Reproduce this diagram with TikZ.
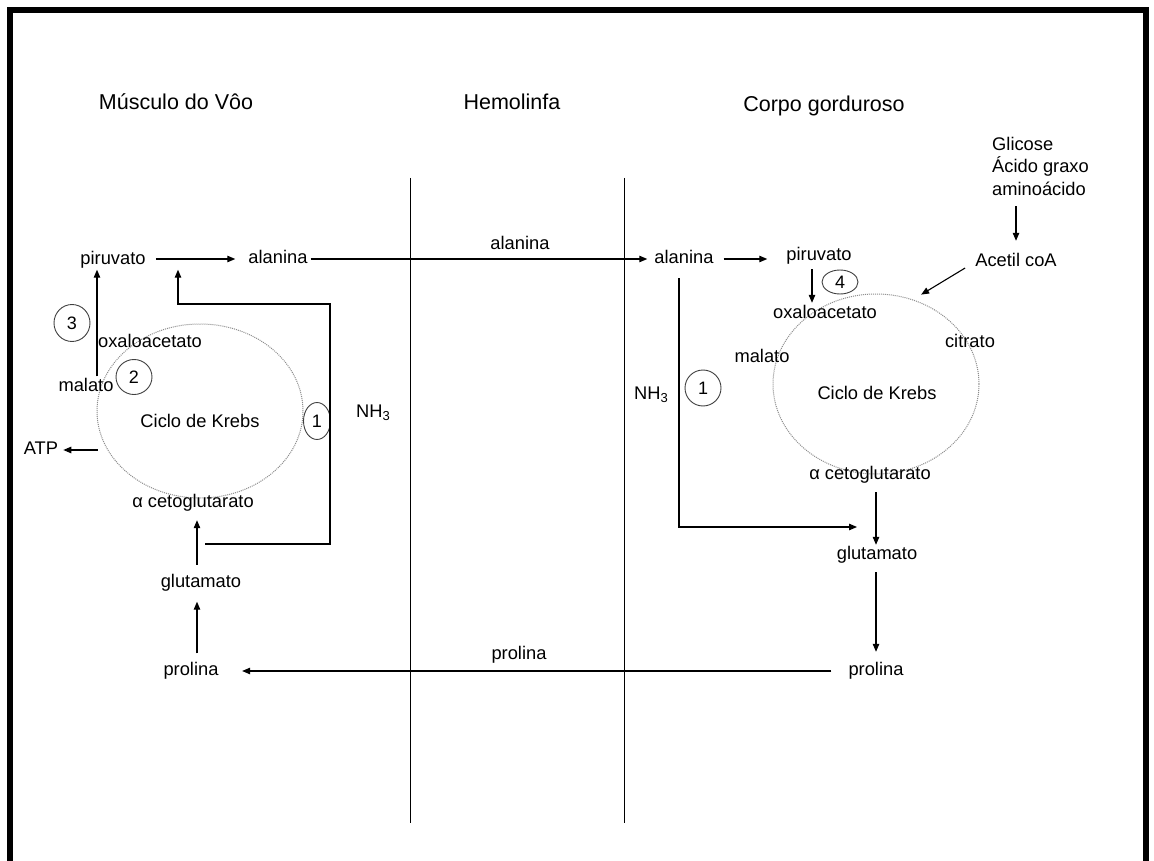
\documentclass[tikz,border=0pt]{standalone}
\usepackage{fontspec}
\setmainfont{Liberation Sans}
\usetikzlibrary{arrows.meta,shapes.geometric}
\newcommand{\subthree}{\raisebox{-0.35ex}{\fontsize{13}{14}\selectfont 3}}
\begin{document}
\begin{tikzpicture}[x=1pt,y=-1pt,
 txt/.style={inner sep=0pt, font=\fontsize{18.3}{22}\selectfont, text height=13pt, text depth=4pt},
 ttl/.style={inner sep=0pt, font=\fontsize{21.5}{26}\selectfont},
 num/.style={draw=black!75, ellipse, inner sep=0pt, line width=0.9pt, font=\fontsize{18}{22}\selectfont},
 krebs/.style={draw=black!45, densely dotted, line width=1pt, ellipse, inner sep=0pt},
 arr/.style={-{Triangle[length=8pt,width=6.5pt]}, line width=1.1pt},
 ln/.style={line width=1pt},
]
\useasboundingbox (0,0) rectangle (1154,861);
\fill[white] (0,0) rectangle (1154,861);
\draw[line width=6.5pt] (10,870) -- (10,10) -- (1146,10) -- (1146,870);

% titles
\node[ttl] (tM) at (176,102) {Músculo do Vôo};
\node[ttl] (tH) at (512,102) {Hemolinfa};
\node[ttl] (tC) at (824,106) {Corpo gorduroso};

% dividers
\coordinate (d1t) at (410,178); \coordinate (d1b) at (410,823);
\coordinate (d2t) at (624,178); \coordinate (d2b) at (624,823);
\draw[ln] (d1t) -- (d1b);
\draw[ln] (d2t) -- (d2b);

% Krebs cycles
\node[krebs, minimum width=206pt, minimum height=174pt] (krL) at (200,411) {};
\node[txt] (ckL) at (200,423) {Ciclo de Krebs};
\node[krebs, minimum width=206pt, minimum height=180pt] (krR) at (876,384) {};
\node[txt] (ckR) at (877,395) {Ciclo de Krebs};

% left texts
\node[txt] (pirL) at (113,260) {piruvato};
\node[txt] (alaL) at (278,259) {alanina};
\node[txt] (oxaL) at (150,343) {oxaloacetato};
\node[txt] (malL) at (86,387) {malato};
\node[txt] (atp) at (41,450) {ATP};
\node[txt] (akgL) at (193,503) {α cetoglutarato};
\node[txt] (gluL) at (201,583) {glutamato};
\node[txt] (proL) at (191,671) {prolina};
\node[txt] (nh3L) at (373,413) {NH\subthree};
\node[num, minimum width=36pt, minimum height=37pt] (c3) at (72,323) {3};
\node[num, minimum width=36pt, minimum height=35pt] (c2) at (134,377) {2};
\node[num, minimum width=27pt, minimum height=37pt] (c1L) at (317,421) {1};

% middle texts
\node[txt] (alaM) at (520,245) {alanina};
\node[txt] (proM) at (519,655) {prolina};

% right texts
\node[txt] (alaR) at (684,259) {alanina};
\node[txt] (pirR) at (819,256) {piruvato};
\node[txt] (oxaR) at (825,314) {oxaloacetato};
\node[txt] (malR) at (762,358) {malato};
\node[txt] (citR) at (970,343) {citrato};
\node[txt] (nh3R) at (651,395) {NH\subthree};
\node[txt] (akgR) at (870,475) {α cetoglutarato};
\node[txt] (gluR) at (877,555) {glutamato};
\node[txt] (proR) at (876,671) {prolina};
\node[txt] (acet) at (1016,262) {Acetil coA};
\node[txt, anchor=west] (glc1) at (992,146) {Glicose};
\node[txt, anchor=west] (glc2) at (992,168) {Ácido graxo};
\node[txt, anchor=west] (glc3) at (992,191) {aminoácido};
\node[num, minimum width=36pt, minimum height=24pt] (c4) at (840,282) {4};
\node[num, minimum width=36pt, minimum height=36pt] (c1R) at (703,388) {1};

% left connectors
\draw[arr] ([xshift=10pt]pirL.east |- alaL.west) -- ([xshift=-13pt]alaL.west);
\draw[arr] ([xshift=3pt]alaL.east) -- ([xshift=-7pt]alaR.west);
\draw[arr] ([xshift=11pt,yshift=2pt]malL.north) -- ([xshift=-16pt,yshift=-1pt]pirL.south);
\coordinate (lpA) at (205,544);
\coordinate (lpB) at (330,544);
\coordinate (lpC) at (330,304);
\draw[arr] (lpA) -- (lpB) -- (lpC) -| ([xshift=65pt,yshift=-1pt]pirL.south);
\draw[arr] ([xshift=1pt]krL.west |- atp.east) -- ([xshift=5pt]atp.east);
\draw[arr] ([xshift=6pt,yshift=9pt]proL.north) -- ([xshift=-4pt,yshift=-10pt]gluL.south);
\draw[arr] ([xshift=-4pt,yshift=9.5pt]gluL.north) -- ([xshift=4pt,yshift=-8.5pt]akgL.south);
\draw[arr] ([xshift=-17pt]proR.west) -- ([xshift=23.5pt]proL.east);

% right connectors
\draw[arr] ([xshift=10pt]alaR.east) -- ([xshift=-19pt]pirR.west |- alaR.east);
\draw[arr] ([xshift=-7pt,yshift=-4.5pt]pirR.south) -- ([xshift=-13pt,yshift=2.5pt]oxaR.north);
\coordinate (gluIn) at (857,527);
\draw[arr] ([xshift=-5pt,yshift=-10.5pt]alaR.south) |- (gluIn);
\draw[arr] ([xshift=6pt,yshift=-8.5pt]akgR.south) -- ([xshift=-1pt,yshift=1.5pt]gluR.north);
\draw[arr] ([xshift=-1pt,yshift=-8.5pt]gluR.south) -- ([yshift=10.5pt]proR.north);
\draw[arr] ([yshift=-6.5pt]glc3.south -| acet.north) -- ([yshift=12.5pt]acet.north);
\draw[arr] ([xshift=-10pt,yshift=-6pt]acet.west) -- ([xshift=3pt,yshift=6.7pt]krR.63);
\end{tikzpicture}
\end{document}
